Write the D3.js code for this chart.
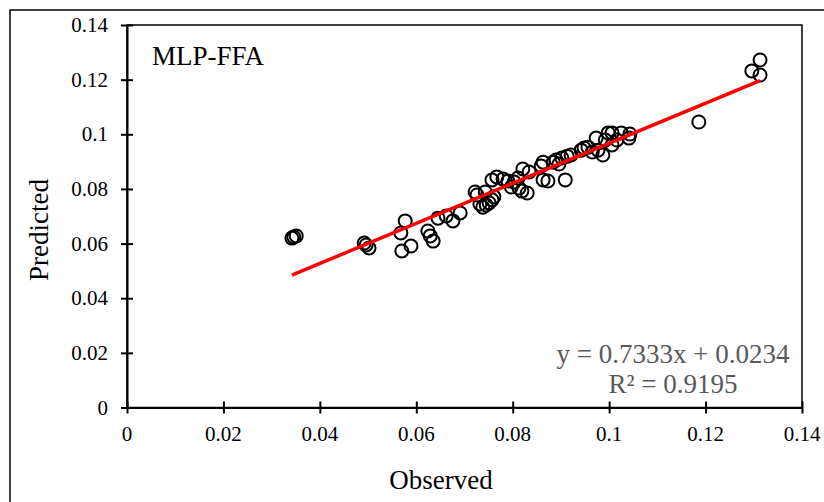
<!DOCTYPE html>
<html>
<head>
<meta charset="utf-8">
<script src="https://cdn.jsdelivr.net/npm/d3@7"></script>
<style>
  body { margin: 0; background: #fff; }
  text { font-family: "Liberation Serif", "Times New Roman", serif; }
</style>
</head>
<body>
<svg id="chart" width="824" height="502"></svg>
<script>
// observed / predicted values
var observed = [
  0.0342, 0.0346, 0.0351, 0.0492, 0.0496, 0.0502, 0.0568, 0.0577, 0.0570, 0.0589,
  0.0624, 0.0629, 0.0635, 0.0645, 0.0662, 0.0676, 0.0691, 0.0722, 0.0726, 0.0732,
  0.0738, 0.0745, 0.0751, 0.0757, 0.0761, 0.0743, 0.0757, 0.0767, 0.0780, 0.0790,
  0.0797, 0.0803, 0.0813, 0.0819, 0.0821, 0.0830, 0.0834, 0.0811, 0.0859, 0.0863,
  0.0863, 0.0873, 0.0884, 0.0890, 0.0896, 0.0902, 0.0909, 0.0913, 0.0921, 0.0942,
  0.0948, 0.0956, 0.0965, 0.0973, 0.0977, 0.0987, 0.0992, 0.0998, 0.1006, 0.1006,
  0.1016, 0.1025, 0.1041, 0.1043, 0.1186, 0.1296, 0.1313, 0.1313
];
var predicted = [
  0.0620, 0.0624, 0.0628, 0.0602, 0.0595, 0.0584, 0.0639, 0.0683, 0.0573, 0.0591,
  0.0646, 0.0628, 0.0609, 0.0693, 0.0701, 0.0683, 0.0712, 0.0789, 0.0778, 0.0745,
  0.0733, 0.0741, 0.0749, 0.0760, 0.0771, 0.0789, 0.0833, 0.0844, 0.0836, 0.0829,
  0.0807, 0.0825, 0.0803, 0.0792, 0.0873, 0.0785, 0.0862, 0.0840, 0.0884, 0.0898,
  0.0833, 0.0829, 0.0898, 0.0906, 0.0891, 0.0913, 0.0833, 0.0920, 0.0924, 0.0942,
  0.0950, 0.0953, 0.0935, 0.0986, 0.0942, 0.0924, 0.0979, 0.1005, 0.1005, 0.0961,
  0.0979, 0.1005, 0.0986, 0.1001, 0.1045, 0.1232, 0.1272, 0.1217
];
var xTicks = [0, 0.02, 0.04, 0.06, 0.08, 0.1, 0.12, 0.14];
var yTicks = [0, 0.02, 0.04, 0.06, 0.08, 0.1, 0.12, 0.14];
var slope = 0.7333, intercept = 0.0234, r2 = 0.9195;

var svg = d3.select("#chart");
var plotLeft = 127, plotRight = 802, plotTop = 25, plotBottom = 407.5;

var x = d3.scaleLinear().domain([0, 0.14]).range([plotLeft, plotRight]);
var y = d3.scaleLinear().domain([0, 0.14]).range([plotBottom, plotTop]);

// outer chart frame (runs off the picture on the right and bottom)
svg.append("rect")
  .attr("x", 10).attr("y", 10).attr("width", 830).attr("height", 520)
  .attr("fill", "none").attr("stroke", "#000").attr("stroke-width", 1.5);

// plot area box
svg.append("rect")
  .attr("x", plotLeft).attr("y", plotTop)
  .attr("width", plotRight - plotLeft).attr("height", plotBottom - plotTop)
  .attr("fill", "none").attr("stroke", "#000").attr("stroke-width", 1.5);

// axes with cross ticks
var xAxis = svg.append("g").attr("transform", "translate(0," + plotBottom + ")")
  .call(d3.axisBottom(x).tickValues(xTicks).tickSize(0).tickFormat(""));
xAxis.select(".domain").attr("stroke-width", 2);
xAxis.selectAll(".tick line").attr("y1", -6).attr("y2", 6).attr("stroke-width", 2);

var yAxis = svg.append("g").attr("transform", "translate(" + plotLeft + ",0)")
  .call(d3.axisLeft(y).tickValues(yTicks).tickSize(0).tickFormat(""));
yAxis.select(".domain").attr("stroke-width", 2);
yAxis.selectAll(".tick line").attr("x1", -6).attr("x2", 6).attr("stroke-width", 2);

svg.selectAll(".xlab").data(xTicks).enter().append("text")
  .attr("x", function(d) { return x(d); })
  .attr("y", 441)
  .attr("text-anchor", "middle")
  .style("font-size", "21px")
  .text(function(d) { return d3.format("")(d); });

svg.selectAll(".ylab").data(yTicks).enter().append("text")
  .attr("x", 108)
  .attr("y", function(d) { return y(d) + 7; })
  .attr("text-anchor", "end")
  .style("font-size", "21px")
  .text(function(d) { return d3.format("")(d); });

// points
var pts = observed.map(function(o, i) { return { o: o, p: predicted[i] }; });
svg.selectAll("circle.pt").data(pts).enter().append("circle")
  .attr("class", "pt")
  .attr("cx", function(d) { return x(d.o); })
  .attr("cy", function(d) { return y(d.p); })
  .attr("r", 6.5)
  .attr("fill", "none")
  .attr("stroke", "#000")
  .attr("stroke-width", 2);

// trend line
var xmin = d3.min(observed), xmax = d3.max(observed);
svg.append("line")
  .attr("x1", x(xmin)).attr("y1", y(slope * xmin + intercept))
  .attr("x2", x(xmax)).attr("y2", y(slope * xmax + intercept))
  .attr("stroke", "#ff0000").attr("stroke-width", 3.5);

// labels
svg.append("text").attr("x", 152).attr("y", 65)
  .style("font-size", "27px").text("MLP-FFA");

svg.append("text").attr("x", 673).attr("y", 363)
  .attr("text-anchor", "middle").attr("fill", "#595959")
  .style("font-size", "27px")
  .text("y = " + slope + "x + " + intercept);
svg.append("text").attr("x", 673).attr("y", 393)
  .attr("text-anchor", "middle").attr("fill", "#595959")
  .style("font-size", "27px")
  .text("R\u00b2 = " + r2);

svg.append("text").attr("x", 441).attr("y", 489)
  .attr("text-anchor", "middle")
  .style("font-size", "27px").text("Observed");

svg.append("text")
  .attr("transform", "translate(48,230) rotate(-90)")
  .attr("text-anchor", "middle")
  .style("font-size", "27px").text("Predicted");
</script>
</body>
</html>
